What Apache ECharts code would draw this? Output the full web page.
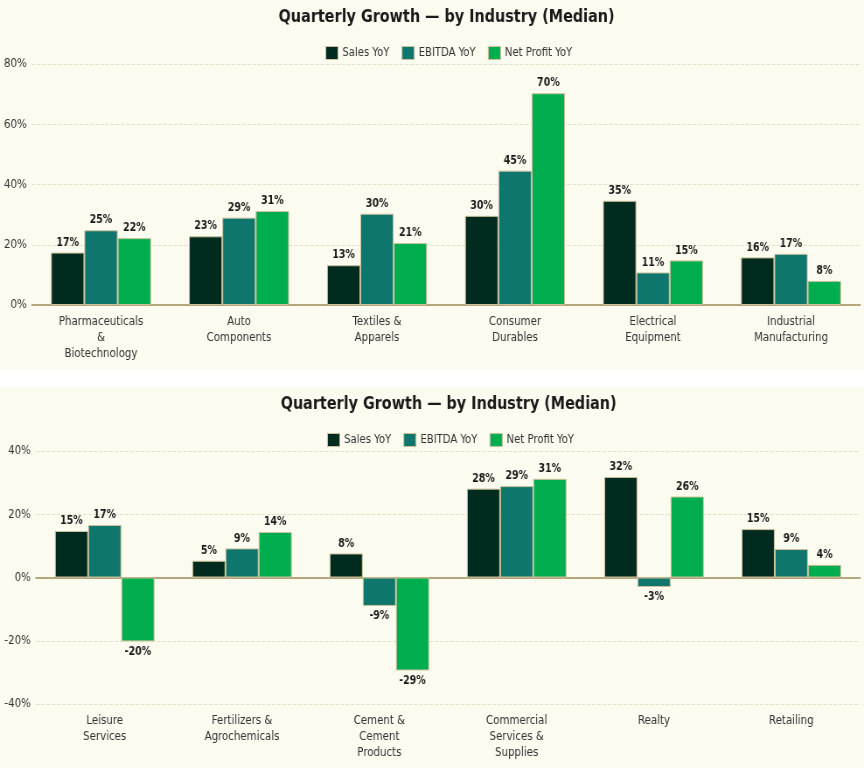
<!DOCTYPE html>
<html>
<head>
<meta charset="utf-8">
<script src="https://cdn.jsdelivr.net/npm/echarts@6/dist/echarts.min.js"></script>
<style>
  html, body { margin: 0; padding: 0; background: #ffffff; overflow: hidden; }
  #wrap { width: 864px; height: 768px; overflow: hidden; position: relative; }
  .ch { width: 988px; transform: scaleX(0.874494); transform-origin: 0 0; position: absolute; left: 0; }
  #c1 { top: 0; height: 369px; }
  #c2 { top: 387px; height: 381px; }
</style>
</head>
<body>
<div id="wrap">
  <div id="c1" class="ch"></div>
  <div id="c2" class="ch"></div>
</div>
<script>
const titleText = 'Quarterly Growth — by Industry (Median)';
const seriesNames = ['Sales YoY', 'EBITDA YoY', 'Net Profit YoY'];
const colors = ['#022b20', '#0f766e', '#00ad4f'];

const categories1 = ['Pharmaceuticals\n&\nBiotechnology', 'Auto\nComponents', 'Textiles &\nApparels', 'Consumer\nDurables', 'Electrical\nEquipment', 'Industrial\nManufacturing'];
const sales1 = [17.4, 22.8, 13.2, 29.6, 34.6, 15.8];
const ebitda1 = [24.8, 29.0, 30.3, 44.6, 10.8, 17.0];
const net1 = [22.2, 31.2, 20.6, 70.3, 14.8, 8.0];

const categories2 = ['Leisure\nServices', 'Fertilizers &\nAgrochemicals', 'Cement &\nCement\nProducts', 'Commercial\nServices &\nSupplies', 'Realty', 'Retailing'];
const sales2 = [14.7, 5.3, 7.6, 28.1, 31.8, 15.3];
const ebitda2 = [16.6, 9.2, -9.0, 28.9, -3.0, 9.0];
const net2 = [-20.2, 14.4, -29.4, 31.2, 25.6, 4.0];

const yTicks1 = { min: 0, max: 80, interval: 20 };
const yTicks2 = { min: -40, max: 40, interval: 20 };

const FONT = '"DejaVu Sans Condensed", "DejaVu Sans", sans-serif';
const LOGICAL_W = 988;

function makeSeries(name, values, color) {
  return {
    name: name,
    type: 'bar',
    barGap: '0%',
    barCategoryGap: '27.5%',
    itemStyle: { color: color, borderColor: '#cdc29c', borderWidth: 1 },
    label: {
      show: true,
      position: 'top',
      distance: 4,
      fontFamily: FONT,
      fontWeight: 'bold',
      fontSize: 12,
      color: '#1a1a1a',
      formatter: function (p) { return Math.round(p.value) + '%'; }
    },
    data: values.map(function (v) {
      return v < 0 ? { value: v, label: { position: 'bottom' } } : v;
    })
  };
}

function makeOption(categories, s, e, n, yt, left, legendLeft) {
  const right = 4.6;
  const center = (left + (LOGICAL_W - right)) / 2 - 4.3;
  return {
    backgroundColor: '#fcfbf0',
    animation: false,
    textStyle: { fontFamily: FONT },
    title: {
      text: titleText,
      left: center,
      textAlign: 'center',
      top: 3,
      textStyle: { fontFamily: FONT, fontWeight: 'bold', fontSize: 18.3, color: '#1a1a1a' }
    },
    legend: {
      top: 41,
      left: legendLeft,
      icon: 'rect',
      itemWidth: 14,
      itemHeight: 13,
      itemGap: 14,
      textStyle: { fontFamily: FONT, fontSize: 12.8, color: '#333' },
      data: seriesNames.map(function (nm) { return { name: nm, itemStyle: { borderColor: '#cdc29c', borderWidth: 1 } }; })
    },
    grid: { left: left, right: right, top: 64, bottom: 64, containLabel: false },
    xAxis: {
      type: 'category',
      data: categories,
      axisLine: { show: true, lineStyle: { color: '#b5a67e', width: 2 } },
      axisTick: { show: false },
      axisLabel: { fontFamily: FONT, fontSize: 13, color: '#333', lineHeight: 16, margin: 9, interval: 0 }
    },
    yAxis: {
      type: 'value',
      min: yt.min, max: yt.max, interval: yt.interval,
      axisLine: { show: false },
      axisTick: { show: false },
      axisLabel: { fontFamily: FONT, fontSize: 13, color: '#333', margin: 6, formatter: '{value}%' },
      splitLine: { show: true, lineStyle: { color: '#e4dfc6', type: 'dashed', width: 1 } }
    },
    series: [
      makeSeries(seriesNames[0], s, colors[0]),
      makeSeries(seriesNames[1], e, colors[1]),
      makeSeries(seriesNames[2], n, colors[2])
    ]
  };
}

const ch1 = echarts.init(document.getElementById('c1'));
ch1.setOption(makeOption(categories1, sales1, ebitda1, net1, yTicks1, 36.6, 367));
const ch2 = echarts.init(document.getElementById('c2'));
ch2.setOption(makeOption(categories2, sales2, ebitda2, net2, yTicks2, 41.2, 369));
</script>
</body>
</html>
